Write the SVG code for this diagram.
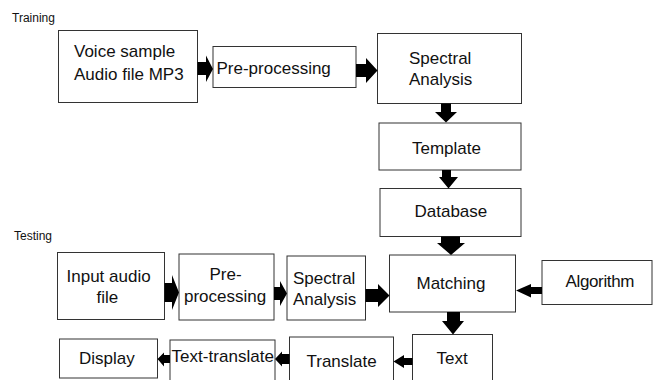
<svg xmlns="http://www.w3.org/2000/svg" width="653" height="380" viewBox="0 0 653 380">
<style>
.box{fill:#fff;stroke:#333;stroke-width:1}
.t{font-family:"Liberation Sans",Arial,sans-serif;font-size:17px;fill:#111}
.lbl{font-family:"Liberation Sans",Arial,sans-serif;font-size:12px;fill:#111}
.arr{fill:#000}
</style>
<rect width="653" height="380" fill="#fff"/>
<text class="lbl" x="12" y="22">Training</text>
<text class="lbl" x="14" y="240">Testing</text>

<g id="voice"><rect class="box" x="58.5" y="30.5" width="139" height="72"/>
<text class="t" x="74" y="57">Voice sample</text><text class="t" x="74" y="80">Audio file MP3</text></g>
<g id="preproc1"><rect class="box" x="213" y="46.5" width="143" height="41"/>
<text class="t" x="216.5" y="74">Pre-processing</text></g>
<g id="spectral1"><rect class="box" x="377.5" y="33.5" width="144" height="70"/>
<text class="t" x="409" y="63.5">Spectral</text><text class="t" x="409" y="85">Analysis</text></g>
<g id="template"><rect class="box" x="379" y="123" width="142" height="47"/>
<text class="t" x="412" y="153.5">Template</text></g>
<g id="database"><rect class="box" x="380" y="188.5" width="141" height="48"/>
<text class="t" x="414.5" y="217">Database</text></g>

<g id="input"><rect class="box" x="57.5" y="252.5" width="107" height="67"/>
<text class="t" x="66.5" y="282">Input audio</text><text class="t" x="96.5" y="303">file</text></g>
<g id="preproc2"><rect class="box" x="179" y="254" width="95" height="66"/>
<text class="t" x="209.5" y="280">Pre-</text><text class="t" x="184" y="302">processing</text></g>
<g id="spectral2"><rect class="box" x="287" y="256" width="78.5" height="64"/>
<text class="t" x="293" y="283.5">Spectral</text><text class="t" x="293" y="305">Analysis</text></g>
<g id="matching"><rect class="box" x="389.5" y="255" width="126" height="57"/>
<text class="t" x="416.5" y="288.5">Matching</text></g>
<g id="algorithm"><rect class="box" x="542" y="260.5" width="110" height="44"/>
<text class="t" x="565.5" y="287" textLength="69">Algorithm</text></g>
<g id="text"><rect class="box" x="412.5" y="334.5" width="80" height="50"/>
<text class="t" x="436.5" y="363.5">Text</text></g>
<g id="translate"><rect class="box" x="289.5" y="337" width="104" height="48"/>
<text class="t" x="306.5" y="366.5">Translate</text></g>
<g id="texttranslate"><rect class="box" x="170" y="340" width="105" height="45"/>
<text class="t" x="171.5" y="362" textLength="102.5">Text-translate</text></g>
<g id="display"><rect class="box" x="59.5" y="339" width="98" height="39"/>
<text class="t" x="79" y="363.5">Display</text></g>

<g id="connectors" class="arr">
<polygon points="197.5,62 206,62 206,55.5 213,69 206,82 206,75 197.5,75"/>
<polygon points="356,64 366,64 366,58 377.5,70.5 366,83 366,77 356,77"/>
<polygon points="441,103.5 451,103.5 451,112 457,112 446,122.5 435,112 441,112"/>
<polygon points="442,170 451,170 451,177 458,177 448.5,188.5 439,177 442,177"/>
<polygon points="441,236.5 460,236.5 460,243 465,243 451,255 437,243 441,243"/>
<polygon points="447,312 460,312 460,321 464,321 453,334.5 442,321 447,321"/>
<polygon points="365.5,289 378,289 378,284 389.5,295.5 378,307 378,302 365.5,302"/>
<polygon points="542,287 531,287 531,284 516,290.5 531,297.5 531,294 542,294"/>
<polygon points="164.5,283 172,283 172,275 179,292.5 172,310 172,302 164.5,302"/>
<polygon points="274,287 280,287 280,281 287,293.5 280,306 280,300 274,300"/>
<polygon points="412.5,358 404,358 404,355 393.5,361.5 404,368 404,365 412.5,365"/>
<polygon points="289.5,354 282,354 282,351.5 275,359 282,366.5 282,364 289.5,364"/>
<polygon points="170,355 164,355 164,352.5 157.5,359 164,366.5 164,363 170,363"/>
</g>
</svg>
